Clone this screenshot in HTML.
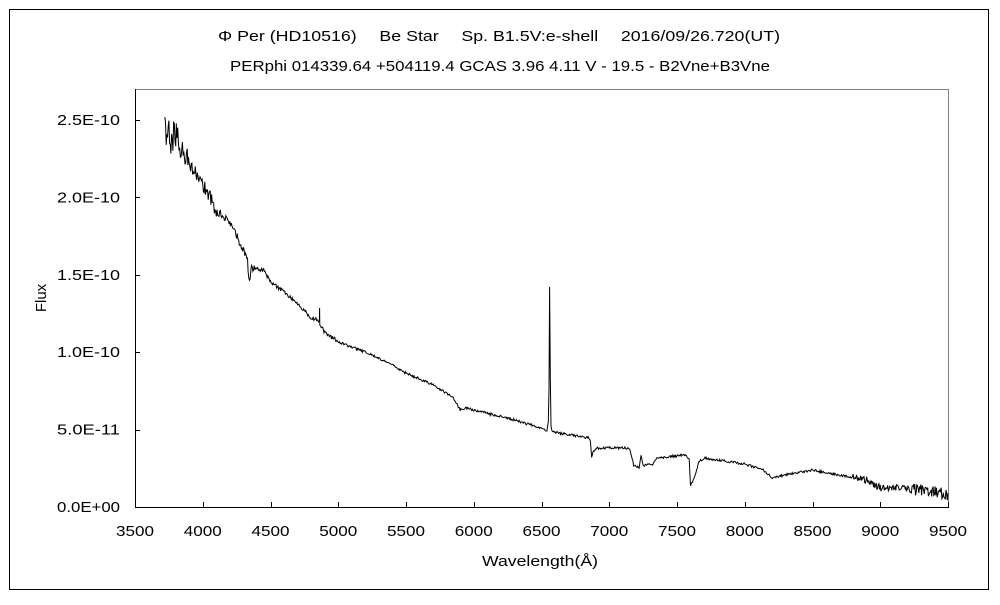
<!DOCTYPE html>
<html><head><meta charset="utf-8"><style>
body{margin:0;background:#fff}
svg text{font-family:"Liberation Sans","Noto Sans CJK JP",sans-serif;fill:#000}
</style></head><body>
<svg id="s" width="1000" height="600" xmlns="http://www.w3.org/2000/svg">
<rect x="0" y="0" width="1000" height="600" fill="#fff"/>
<rect x="9.5" y="9.5" width="979" height="580" fill="none" stroke="#000" stroke-width="1"/>
<rect x="135.5" y="89.5" width="813" height="418" fill="none" stroke="#808080" stroke-width="1"/>
<line x1="135.5" y1="89" x2="135.5" y2="508" stroke="#000"/>
<line x1="135" y1="507.5" x2="949" y2="507.5" stroke="#000"/>
<text x="218" y="41" font-size="15" textLength="562" lengthAdjust="spacingAndGlyphs">Φ Per (HD10516)　 Be Star　 Sp. B1.5V:e-shell　 2016/09/26.720(UT)</text>
<text x="230" y="71" font-size="15" textLength="540" lengthAdjust="spacingAndGlyphs">PERphi 014339.64 +504119.4 GCAS 3.96 4.11 V - 19.5 - B2Vne+B3Vne</text>
<text x="482" y="566" font-size="15" textLength="116" lengthAdjust="spacingAndGlyphs">Wavelength(Å)</text>
<text x="46" y="298" font-size="15" text-anchor="middle" transform="rotate(-90 46 298)">Flux</text>
<g id="ax" font-size="15"></g>
<polyline id="sp" fill="none" stroke="#000" stroke-width="1" points=""/>
</svg>
<script>
var ax=document.getElementById('ax'),h='';
function X(l){return 135+(l-3500)*813/6000}
for(var i=0;i<=12;i++){var l=3500+i*500,x=X(l);
h+='<line x1="'+(Math.round(x)+.5)+'" y1="507" x2="'+(Math.round(x)+.5)+'" y2="502" stroke="#000"/>';
h+='<text x="'+(x-19)+'" y="536" textLength="38" lengthAdjust="spacingAndGlyphs">'+l+'</text>';}
var yl=["0.0E+00","5.0E-11","1.0E-10","1.5E-10","2.0E-10","2.5E-10"];
for(var j=0;j<6;j++){var y=507-j*77.4;
h+='<line x1="135" y1="'+(Math.round(y)+.5)+'" x2="140" y2="'+(Math.round(y)+.5)+'" stroke="#000"/>';
h+='<text x="57" y="'+(y+5)+'" textLength="63" lengthAdjust="spacingAndGlyphs">'+yl[j]+'</text>';}
ax.innerHTML=h;
var k=[[3720,135],[3800,140],[3900,162],[4000,185],[4050,195],[4100,213],[4150,215],[4200,222],[4300,250],[4330,262],[4340,282],[4360,268],[4450,270],[4500,282],[4600,292],[4700,303],[4800,318],[4850,320],[4900,332],[5000,342],[5200,352],[5400,365],[5500,373],[5700,385],[5850,398],[5900,410],[5950,408],[6000,410],[6300,420],[6400,424],[6500,428],[6540,432],[6552,420],[6556,380],[6560,287],[6564,360],[6568,425],[6580,432],[6850,438],[6860,440],[6870,458],[6880,452],[6900,448],[7150,448],[7180,465],[7220,468],[7235,455],[7250,466],[7320,464],[7350,458],[7560,455],[7590,460],[7600,485],[7630,478],[7660,462],[7700,458],[8000,464],[8140,470],[8200,478],[8300,475],[8500,470],[8700,475],[8900,480],[9000,488],[9200,488],[9400,492],[9500,495]];
var s=1,pts=[];function r(){s=(s*16807)%2147483647;return s/2147483647-.5}
var ki=0;
for(var l=3720;l<=9500;l+=5){while(ki<k.length-2&&k[ki+1][0]<l)ki++;
var a=k[ki],b=k[ki+1],t=Math.max(0,Math.min(1,(l-a[0])/(b[0]-a[0]))),y=a[1]+(b[1]-a[1])*t;
var amp=l<3820?36:l<3900?22:l<4100?14:l<4400?8:l<5000?4:l<8800?2.5:l<9200?7:12;
if(Math.abs(l-6560)<15)amp=0;
pts.push(X(l).toFixed(1)+','+(y+r()*amp).toFixed(1));
if(l==4860)pts.push(X(4862).toFixed(1)+',308',X(4864).toFixed(1)+',325');}
document.getElementById('sp').setAttribute('points',pts.join(' '));
</script>
</body></html>
